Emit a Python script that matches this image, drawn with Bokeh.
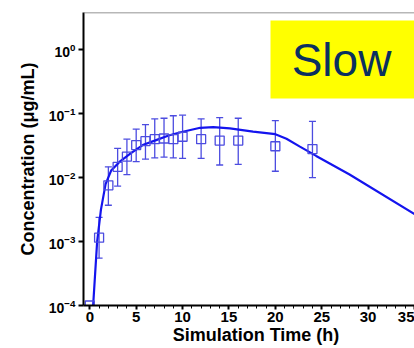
from bokeh.plotting import figure
from bokeh.models import (ColumnDataSource, Whisker, FixedTicker, SingleIntervalTicker,
                          Range1d, BoxAnnotation, Label, Span, TeeHead)
from bokeh.embed import file_html
from bokeh.resources import INLINE

# simulated curve
sim_time = [0.30, 0.36, 0.79, 1.20, 1.70, 2.30, 3.30, 4.40, 5.70, 7.00, 8.50, 9.80,
            11.9, 13.3, 15.1, 17.6, 20.0, 21.2, 22.6, 24.4, 28.0, 35.0]
sim_conc = [5.0e-5, 1.0e-4, 1.0e-3, 3.16e-3, 7.94e-3, 0.0129, 0.0182, 0.0240, 0.0324,
            0.0380, 0.0457, 0.0513, 0.0603, 0.0617, 0.0589, 0.0525, 0.0479, 0.0407,
            0.0309, 0.0219, 0.0112, 0.00269]

# observed data
obs_time = [0, 1, 2, 3, 4, 5, 6, 7, 8, 9, 10, 12, 14, 16, 20, 24]
obs_conc = [1.0e-4, 1.15e-3, 7.6e-3, 0.0148, 0.0214, 0.0324, 0.0372, 0.040, 0.041,
            0.040, 0.0437, 0.040, 0.038, 0.038, 0.031, 0.028]
obs_upper = [None, 2.4e-3, 0.0148, 0.0288, 0.040, 0.0575, 0.0676, 0.083, 0.085,
             0.093, 0.095, 0.083, 0.087, 0.085, 0.078, 0.076]
obs_lower = [None, 5.5e-4, 3.7e-3, 7.4e-3, 0.0112, 0.0178, 0.0195, 0.0204, 0.021,
             0.0204, 0.020, 0.020, 0.0158, 0.0162, 0.0126, 0.010]

y_ticks = [1e-4, 1e-3, 1e-2, 1e-1, 1e0]
x_label = "Simulation Time (h)"
y_label = "Concentration (μg/mL)"
badge = "Slow"

LINE = "#1414ee"
MARK = "#4c4ce0"
FONT = "Liberation Sans"

p = figure(width=414, height=348, x_range=Range1d(-0.68, 35.0), y_range=Range1d(1e-4, 3.84),
           y_axis_type="log", output_backend="svg", toolbar_location=None,
           min_border_left=83, min_border_right=0, min_border_top=12, min_border_bottom=43)
p.xgrid.visible = False
p.ygrid.visible = False
p.outline_line_color = None
p.background_fill_color = "white"
p.border_fill_color = "white"

p.add_layout(Span(location=3.84, dimension="width", line_color="#707070", line_width=1.5))

# badge
p.add_layout(BoxAnnotation(left=270, right=420, top=20, bottom=98,
                           left_units="canvas", right_units="canvas",
                           top_units="canvas", bottom_units="canvas",
                           fill_color="#ffff00", fill_alpha=1.0, line_color=None,
                           level="underlay"))
p.add_layout(Label(x=341, y=59, x_units="canvas", y_units="canvas", text=badge,
                   text_align="center", text_baseline="alphabetic",
                   text_font=FONT, text_font_size="46px", text_color="#0a3060"))

# error bars
ws = ColumnDataSource(data=dict(t=obs_time[1:], up=obs_upper[1:], lo=obs_lower[1:]))
w = Whisker(source=ws, base="t", upper="up", lower="lo", line_color=MARK, line_width=1.3,
            upper_head=TeeHead(size=7, line_color=MARK, line_width=1.3),
            lower_head=TeeHead(size=7, line_color=MARK, line_width=1.3),
            level="underlay")
p.add_layout(w)

p.line(sim_time, sim_conc, line_color=LINE, line_width=2.2)
p.scatter(obs_time, obs_conc, marker="square", size=9, line_color=MARK,
          fill_color=None, line_width=1.3)

# axes
for ax in (p.xaxis, p.yaxis):
    ax.axis_line_color = "black"
    ax.axis_line_width = 2
    ax.major_tick_line_color = "black"
    ax.major_tick_line_width = 2
    ax.major_tick_in = 0
    ax.minor_tick_in = 0
    ax.minor_tick_line_color = "black"
    ax.minor_tick_line_width = 1
    ax.major_label_text_font = FONT
    ax.major_label_text_font_style = "bold"
    ax.major_label_text_color = "black"
    ax.axis_label_text_font = FONT
    ax.axis_label_text_font_style = "bold"
    ax.axis_label_text_font_size = "18px"
    ax.axis_label_text_color = "black"

p.xaxis.ticker = SingleIntervalTicker(interval=5, num_minor_ticks=5)
p.xaxis.major_tick_out = 4
p.xaxis.minor_tick_out = 3
p.xaxis.major_label_text_font_size = "15px"
p.xaxis.major_label_standoff = 2
p.xaxis.axis_label = "\u2002\u00a0" + x_label
p.xaxis.axis_label_standoff = 0

p.yaxis.ticker = FixedTicker(ticks=y_ticks, minor_ticks=[])
p.yaxis.major_tick_out = 5
p.yaxis.major_label_text_font_size = "14px"
p.yaxis.major_label_standoff = 3
p.yaxis.axis_label = y_label
p.yaxis.axis_label_standoff = 8

open("out.html", "w").write(file_html(p, INLINE))
